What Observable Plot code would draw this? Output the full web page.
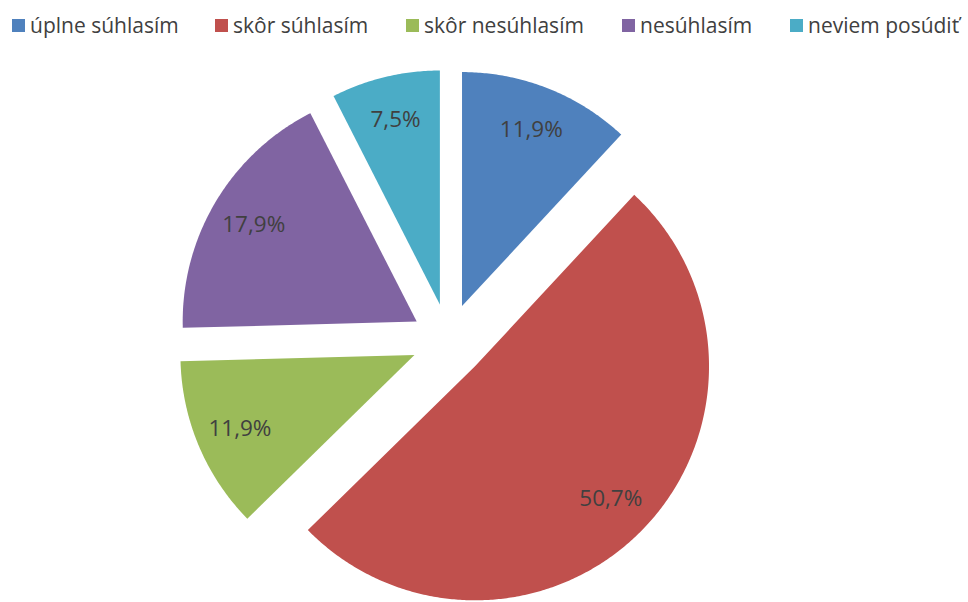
<!DOCTYPE html>
<html>
<head>
<meta charset="utf-8">
<script src="https://cdn.jsdelivr.net/npm/d3@7"></script>
<script src="https://cdn.jsdelivr.net/npm/@observablehq/plot@0.6"></script>
<style>
  html, body { margin: 0; padding: 0; background: #fff; }
  #wrap { width: 968px; height: 602px; position: relative; overflow: hidden; }
  #legend { position: relative; height: 50px; width: 968px; font-family: "Open Sans", sans-serif; font-size: 21px; color: #404040; }
  .item { position: absolute; top: 10px; height: 30px; display: flex; align-items: center; white-space: nowrap; }
  .sw { width: 13px; height: 13px; margin-right: 5px; display: inline-block; }
  svg { display: block; }
</style>
</head>
<body>
<div id="wrap">
  <div id="legend"></div>
  <div id="chart"></div>
</div>
<script>
const categories = ["úplne súhlasím", "skôr súhlasím", "skôr nesúhlasím", "nesúhlasím", "neviem posúdiť"];
const values = [11.9, 50.7, 11.9, 17.9, 7.5];
const labels = ["11,9%", "50,7%", "11,9%", "17,9%", "7,5%"];
const colors = ["#4F81BD", "#C0504D", "#9BBB59", "#8064A2", "#4BACC6"];

// layout (pixels)
const W = 968, H = 552;
const R = 234;          // pie radius in px
const cx = 448, cy = 290; // pie centre in svg px
const explode = 37 / R; // explosion offset (in radius units)
const labelR = 0.81;    // label distance from slice apex (radius units)

// legend
const legendX = [12, 215, 406, 622, 790];
const legend = document.getElementById("legend");
categories.forEach((c, i) => {
  const it = document.createElement("div");
  it.className = "item";
  it.style.left = legendX[i] + "px";
  it.innerHTML = `<span class="sw" style="background:${colors[i]}"></span><span>${c}</span>`;
  legend.appendChild(it);
});

// slices
const arcs = d3.pie().sort(null).value(d => d.value)(
  categories.map((c, i) => ({cat: c, value: values[i], label: labels[i]}))
);
const points = [];
const labelData = [];
arcs.forEach(a => {
  const mid = (a.startAngle + a.endAngle) / 2;
  const ox = explode * Math.sin(mid), oy = explode * Math.cos(mid);
  points.push({cat: a.data.cat, x: ox, y: oy});
  const n = Math.max(8, Math.ceil((a.endAngle - a.startAngle) / (Math.PI / 360)));
  for (let k = 0; k <= n; k++) {
    const t = a.startAngle + (a.endAngle - a.startAngle) * k / n;
    points.push({cat: a.data.cat, x: ox + Math.sin(t), y: oy + Math.cos(t)});
  }
  labelData.push({
    x: ox + labelR * Math.sin(mid),
    y: oy + labelR * Math.cos(mid),
    text: a.data.label
  });
});

const chart = Plot.plot({
  width: W,
  height: H,
  margin: 0,
  x: {domain: [-cx / R, (W - cx) / R], axis: null},
  y: {domain: [-(H - cy) / R, cy / R], axis: null},
  color: {domain: categories, range: colors},
  style: {background: "#fff", fontFamily: "Open Sans, sans-serif"},
  marks: [
    Plot.line(points, {x: "x", y: "y", z: "cat", fill: "cat", stroke: null, curve: "linear-closed"}),
    Plot.text(labelData, {x: "x", y: "y", text: "text", fontSize: 22.5, fill: "#404040"})
  ]
});
document.getElementById("chart").appendChild(chart);
</script>
</body>
</html>
